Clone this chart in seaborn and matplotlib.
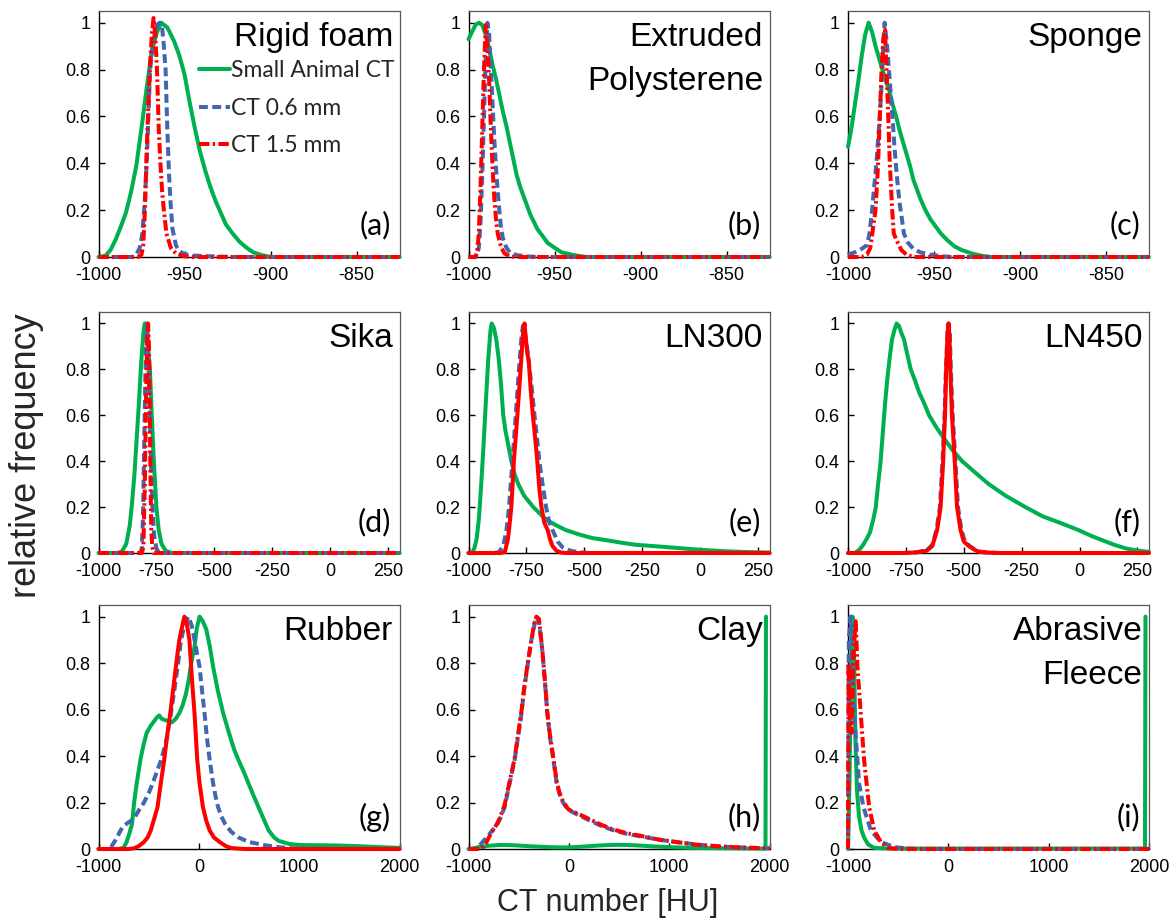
import matplotlib
matplotlib.use("Agg")
import matplotlib.pyplot as plt
import pandas as pd
import seaborn as sns

sns.set_theme(style="ticks")
plt.rcParams["font.family"] = ["Liberation Sans", "DejaVu Sans"]

# ---------------- data (CT number [HU], relative frequency) ----------------
SERIES_NAMES = ["Small Animal CT", "CT 0.6 mm", "CT 1.5 mm"]
TITLES = ["Rigid foam", "Extruded\nPolysterene", "Sponge", "Sika", "LN300", "LN450",
          "Rubber", "Clay", "Abrasive\nFleece"]
LETTERS = ["(a)", "(b)", "(c)", "(d)", "(e)", "(f)", "(g)", "(h)", "(i)"]
ROW_XTICKS = [[-1000, -950, -900, -850], [-1000, -750, -500, -250, 0, 250], [-1000, 0, 1000, 2000]]
ROW_XLIMS = [(-1000, -825), (-1000, 300), (-1000, 2000)]
Y_TICKS = [0, 0.2, 0.4, 0.6, 0.8, 1]
Y_TICK_LABELS = ["0", "0.2", "0.4", "0.6", "0.8", "1"]

# (a) Rigid foam
A_SA = [(-1000, 0), (-996, 0.005), (-993, 0.03), (-990, 0.075), (-987, 0.13), (-984, 0.19), (-981, 0.28),
        (-978, 0.39), (-975, 0.55), (-972, 0.72), (-969, 0.88), (-966, 0.96), (-963.5, 1.0), (-960, 0.98),
        (-956, 0.92), (-953, 0.86), (-950, 0.78), (-947, 0.66), (-944, 0.55), (-941, 0.45), (-938, 0.37),
        (-935, 0.3), (-932, 0.24), (-929, 0.19), (-926, 0.14), (-922, 0.1), (-918, 0.065), (-914, 0.04),
        (-910, 0.02), (-905, 0.008), (-900, 0.0), (-825, 0)]
A_06 = [(-1000, 0), (-980, 0), (-978, 0.01), (-976, 0.04), (-974.5, 0.1), (-973, 0.25), (-972, 0.4),
        (-971, 0.6), (-970, 0.8), (-968, 0.93), (-966, 0.99), (-964.5, 1.0), (-963, 0.98), (-962, 0.9),
        (-961, 0.8), (-960, 0.55), (-959, 0.35), (-958, 0.22), (-957, 0.12), (-955, 0.05), (-953, 0.025),
        (-950, 0.012), (-945, 0.006), (-935, 0.003), (-920, 0.0), (-825, 0)]
A_15 = [(-1000, 0), (-977, 0), (-975, 0.01), (-974, 0.05), (-973, 0.2), (-972, 0.45), (-971, 0.65),
        (-970, 0.82), (-969, 0.95), (-968, 1.02), (-967, 0.95), (-966, 0.8), (-965, 0.55), (-964, 0.4),
        (-963, 0.28), (-962, 0.2), (-960.5, 0.1), (-958, 0.04), (-955, 0.015), (-950, 0.003), (-945, 0),
        (-825, 0)]
# (b) Extruded polysterene
B_SA = [(-1000, 0.93), (-998, 0.96), (-996, 0.99), (-994, 1.0), (-992, 0.99), (-990, 0.95), (-988, 0.89),
        (-986, 0.82), (-984, 0.76), (-982, 0.69), (-980, 0.62), (-978, 0.56), (-976, 0.49), (-974, 0.42),
        (-972, 0.35), (-970, 0.3), (-968, 0.26), (-966, 0.22), (-964, 0.18), (-962, 0.15), (-960, 0.12),
        (-957, 0.09), (-954, 0.06), (-950, 0.04), (-946, 0.02), (-940, 0.01), (-932, 0.0), (-825, 0)]
B_06 = [(-1000, 0), (-996, 0.0), (-995, 0.01), (-994, 0.04), (-993, 0.15), (-992, 0.35), (-991, 0.6),
        (-990, 0.85), (-989, 1.0), (-988, 0.95), (-987, 0.8), (-986, 0.65), (-985, 0.5), (-984, 0.38),
        (-983, 0.28), (-982, 0.19), (-981, 0.12), (-980, 0.08), (-978, 0.04), (-976, 0.02), (-972, 0.008),
        (-965, 0.002), (-960, 0), (-825, 0)]
B_15 = [(-1000, 0), (-996, 0), (-995, 0.02), (-994, 0.1), (-993, 0.3), (-992, 0.55), (-991, 0.8),
        (-990, 0.99), (-989, 0.9), (-988, 0.75), (-987, 0.55), (-986, 0.38), (-985, 0.25), (-984, 0.16),
        (-983, 0.1), (-981, 0.04), (-979, 0.015), (-976, 0.003), (-972, 0), (-825, 0)]
# (c) Sponge
C_SA = [(-1000, 0.47), (-998, 0.55), (-996, 0.65), (-994, 0.75), (-992, 0.86), (-990, 0.95), (-988, 1.0),
        (-986, 0.96), (-984, 0.9), (-982, 0.85), (-980, 0.8), (-978, 0.75), (-976, 0.71), (-974, 0.65),
        (-972, 0.6), (-970, 0.54), (-968, 0.49), (-966, 0.44), (-964, 0.39), (-962, 0.33), (-960, 0.29),
        (-958, 0.25), (-955, 0.2), (-952, 0.16), (-949, 0.13), (-946, 0.1), (-942, 0.07), (-938, 0.045),
        (-934, 0.03), (-928, 0.015), (-922, 0.005), (-917, 0), (-825, 0)]
C_06 = [(-1000, 0.01), (-996, 0.02), (-992, 0.035), (-989, 0.05), (-987.5, 0.1), (-986, 0.2), (-984.5, 0.32),
        (-983.5, 0.4), (-982.5, 0.5), (-981.5, 0.6), (-980, 0.8), (-979.5, 0.9), (-978.7, 1.0), (-977.5, 0.92),
        (-976.2, 0.8), (-975, 0.68), (-974, 0.58), (-973, 0.47), (-972, 0.38), (-971, 0.3), (-970, 0.23),
        (-969, 0.18), (-967.5, 0.1), (-965, 0.06), (-962, 0.035), (-958, 0.02), (-952, 0.01), (-945, 0.003),
        (-940, 0), (-825, 0)]
C_15 = [(-1000, 0), (-992, 0), (-989, 0.01), (-987, 0.04), (-985.5, 0.12), (-984, 0.2), (-982.5, 0.4),
        (-981.5, 0.6), (-980.5, 0.8), (-979.5, 0.93), (-978.5, 0.97), (-977.6, 0.8), (-976.6, 0.6),
        (-975.7, 0.4), (-974.3, 0.2), (-973.4, 0.1), (-971, 0.06), (-969, 0.03), (-966, 0.01), (-962, 0),
        (-825, 0)]
# (d) Sika
D_SA = [(-1000, 0), (-920, 0), (-900, 0.005), (-880, 0.04), (-865, 0.12), (-855, 0.22), (-845, 0.34),
        (-835, 0.5), (-825, 0.66), (-815, 0.84), (-805, 0.97), (-800, 1.0), (-795, 0.97), (-785, 0.88),
        (-778, 0.8), (-770, 0.6), (-761, 0.4), (-750, 0.2), (-740, 0.1), (-728, 0.04), (-710, 0.01),
        (-690, 0.002), (-680, 0), (300, 0)]
D_06 = [(-1000, 0), (-820, 0), (-813, 0.02), (-808, 0.15), (-803, 0.45), (-798, 0.75), (-793, 0.95),
        (-790, 1.0), (-786, 0.9), (-781, 0.7), (-775, 0.45), (-768, 0.22), (-760, 0.08), (-750, 0.02),
        (-740, 0.003), (-730, 0), (300, 0)]
D_15 = [(-1000, 0), (-812, 0), (-806, 0.03), (-800, 0.3), (-795, 0.65), (-790, 0.92), (-786, 1.0),
        (-782, 0.9), (-778, 0.6), (-775, 0.3), (-772, 0.1), (-768, 0.03), (-762, 0), (300, 0)]
# (e) LN300
E_SA = [(-1000, 0), (-985, 0), (-975, 0.02), (-965, 0.06), (-955, 0.15), (-945, 0.3), (-935, 0.47),
        (-925, 0.66), (-915, 0.84), (-905, 0.97), (-900, 1.0), (-890, 0.98), (-880, 0.93), (-870, 0.85),
        (-860, 0.74), (-850, 0.6), (-840, 0.53), (-830, 0.48), (-815, 0.4), (-800, 0.34), (-785, 0.3),
        (-760, 0.25), (-720, 0.2), (-665, 0.145), (-620, 0.12), (-580, 0.1), (-520, 0.08), (-465, 0.065),
        (-400, 0.055), (-340, 0.045), (-280, 0.036), (-200, 0.03), (-100, 0.022), (0, 0.014), (100, 0.008),
        (200, 0.004), (250, 0.003), (300, 0.002)]
E_06 = [(-1000, 0), (-900, 0), (-870, 0.003), (-850, 0.03), (-836, 0.1), (-825, 0.2), (-810, 0.4),
        (-796, 0.6), (-782, 0.8), (-772, 0.93), (-765, 0.99), (-755, 0.95), (-745, 0.88), (-736, 0.8),
        (-725, 0.7), (-715, 0.6), (-704, 0.5), (-694, 0.4), (-680, 0.3), (-665, 0.2), (-650, 0.13),
        (-637, 0.1), (-615, 0.05), (-594, 0.025), (-560, 0.01), (-520, 0.003), (-480, 0), (300, 0)]
E_15 = [(-1000, 0), (-860, 0), (-843, 0.005), (-830, 0.06), (-825, 0.1), (-815, 0.2), (-804, 0.4),
        (-789, 0.6), (-775, 0.8), (-765, 0.95), (-758, 1.0), (-752, 0.93), (-746, 0.87), (-740, 0.84),
        (-732, 0.72), (-722, 0.6), (-712, 0.5), (-703, 0.4), (-694, 0.28), (-685, 0.2), (-672, 0.13),
        (-658, 0.1), (-648, 0.06), (-637, 0.03), (-620, 0.01), (-600, 0.002), (-580, 0), (300, 0)]
# (f) LN450
F_SA = [(-1000, 0), (-970, 0), (-950, 0.015), (-935, 0.035), (-920, 0.06), (-905, 0.09), (-890, 0.15),
        (-880, 0.2), (-870, 0.3), (-860, 0.39), (-850, 0.52), (-840, 0.65), (-830, 0.76), (-820, 0.85),
        (-810, 0.93), (-800, 0.97), (-790, 1.0), (-780, 0.99), (-770, 0.96), (-758, 0.93), (-745, 0.87),
        (-729, 0.8), (-710, 0.75), (-693, 0.7), (-670, 0.65), (-650, 0.6), (-620, 0.55), (-586, 0.5),
        (-550, 0.45), (-507, 0.4), (-450, 0.35), (-392, 0.3), (-320, 0.25), (-234, 0.2), (-160, 0.16),
        (-80, 0.13), (-5, 0.1), (50, 0.075), (100, 0.055), (152, 0.035), (200, 0.02), (252, 0.01),
        (300, 0.005)]
F_06 = [(-1000, 0), (-750, 0), (-700, 0.004), (-660, 0.012), (-636, 0.035), (-618, 0.1), (-603, 0.2),
        (-592, 0.4), (-583, 0.6), (-577, 0.8), (-570, 0.96), (-565, 1.0), (-560, 0.95), (-556, 0.8),
        (-548, 0.6), (-536, 0.4), (-525, 0.2), (-510, 0.1), (-495, 0.05), (-475, 0.03), (-450, 0.015),
        (-430, 0.006), (-390, 0.002), (-340, 0), (300, 0)]
F_15 = [(-1000, 0), (-760, 0), (-700, 0.003), (-660, 0.01), (-636, 0.03), (-615, 0.1), (-600, 0.2),
        (-589, 0.4), (-581, 0.6), (-576, 0.8), (-570, 0.96), (-566, 1.0), (-562, 0.95), (-558, 0.8),
        (-551, 0.6), (-539, 0.4), (-529, 0.2), (-514, 0.1), (-500, 0.05), (-478, 0.03), (-455, 0.015),
        (-435, 0.005), (-400, 0.002), (-350, 0), (300, 0)]
# (g) Rubber
G_SA = [(-1000, 0), (-800, 0), (-750, 0.005), (-720, 0.03), (-690, 0.07), (-665, 0.11), (-645, 0.2),
        (-620, 0.28), (-580, 0.39), (-550, 0.45), (-520, 0.5), (-480, 0.53), (-446, 0.55), (-420, 0.565),
        (-396, 0.575), (-370, 0.56), (-340, 0.555), (-300, 0.55), (-270, 0.545), (-230, 0.56), (-194, 0.585),
        (-160, 0.62), (-127, 0.67), (-100, 0.73), (-76, 0.8), (-43, 0.87), (-20, 0.95), (7, 1.0), (40, 0.98),
        (74, 0.945), (110, 0.87), (142, 0.785), (190, 0.68), (243, 0.584), (300, 0.5), (350, 0.43),
        (394, 0.384), (450, 0.33), (494, 0.283), (545, 0.23), (595, 0.18), (650, 0.125), (696, 0.08),
        (750, 0.05), (796, 0.035), (900, 0.022), (1000, 0.017), (1200, 0.016), (1400, 0.015), (1600, 0.012),
        (1800, 0.008), (2000, 0.005)]
G_06 = [(-1000, 0), (-900, 0), (-880, 0.005), (-850, 0.025), (-815, 0.05), (-780, 0.08), (-748, 0.1),
        (-700, 0.115), (-647, 0.13), (-600, 0.165), (-547, 0.2), (-500, 0.24), (-462, 0.28), (-420, 0.33),
        (-379, 0.38), (-345, 0.43), (-318, 0.48), (-278, 0.584), (-245, 0.68), (-211, 0.785), (-177, 0.9),
        (-140, 0.97), (-104, 1.0), (-70, 0.96), (-43, 0.9), (-18, 0.84), (7, 0.785), (30, 0.69), (57, 0.584),
        (80, 0.48), (108, 0.384), (142, 0.283), (165, 0.23), (192, 0.18), (225, 0.14), (259, 0.11),
        (320, 0.075), (394, 0.05), (500, 0.03), (662, 0.016), (800, 0.008), (930, 0.003), (1100, 0.0),
        (2000, 0)]
G_15 = [(-1000, 0), (-700, 0), (-647, 0.003), (-600, 0.012), (-547, 0.03), (-510, 0.05), (-479, 0.08),
        (-445, 0.13), (-412, 0.18), (-379, 0.283), (-345, 0.384), (-318, 0.48), (-285, 0.584), (-255, 0.69),
        (-228, 0.785), (-210, 0.85), (-194, 0.9), (-170, 0.95), (-144, 1.0), (-120, 0.97), (-94, 0.9),
        (-77, 0.785), (-60, 0.68), (-43, 0.584), (-16, 0.384), (7, 0.283), (41, 0.18), (75, 0.12),
        (108, 0.08), (150, 0.05), (208, 0.03), (270, 0.012), (326, 0.004), (450, 0.0), (2000, 0)]
# (h) Clay
H_SA = [(-1000, 0), (-950, 0.003), (-900, 0.008), (-800, 0.014), (-700, 0.017), (-600, 0.017),
        (-500, 0.015), (-400, 0.012), (-300, 0.01), (-200, 0.008), (-100, 0.007), (0, 0.007), (100, 0.009),
        (200, 0.012), (300, 0.015), (400, 0.017), (500, 0.018), (600, 0.017), (700, 0.015), (800, 0.012),
        (900, 0.01), (1000, 0.008), (1200, 0.005), (1400, 0.004), (1600, 0.003), (1800, 0.002),
        (1960, 0.002), (1965, 1.0)]
H_06 = [(-1000, 0), (-920, 0), (-909, 0.005), (-880, 0.02), (-859, 0.03), (-820, 0.05), (-790, 0.065),
        (-758, 0.082), (-720, 0.1), (-691, 0.125), (-640, 0.18), (-590, 0.283), (-540, 0.384), (-507, 0.48),
        (-473, 0.58), (-446, 0.685), (-413, 0.785), (-373, 0.9), (-345, 0.96), (-322, 1.0), (-298, 0.98),
        (-265, 0.857), (-232, 0.685), (-215, 0.584), (-188, 0.48), (-154, 0.384), (-121, 0.283),
        (-95, 0.24), (-70, 0.21), (-35, 0.185), (-3, 0.168), (100, 0.145), (198, 0.125), (320, 0.1),
        (433, 0.082), (580, 0.065), (735, 0.053), (900, 0.04), (1071, 0.03), (1300, 0.018), (1541, 0.01),
        (1800, 0.005), (2000, 0.003)]
H_15 = [(-1000, 0), (-880, 0), (-850, 0.01), (-820, 0.03), (-790, 0.055), (-758, 0.08), (-720, 0.105),
        (-691, 0.13), (-640, 0.19), (-590, 0.29), (-540, 0.39), (-507, 0.49), (-473, 0.59), (-446, 0.69),
        (-413, 0.79), (-373, 0.9), (-345, 0.97), (-322, 1.0), (-298, 0.99), (-265, 0.86), (-232, 0.69),
        (-215, 0.59), (-188, 0.49), (-154, 0.39), (-121, 0.29), (-95, 0.245), (-70, 0.215), (-35, 0.19),
        (-3, 0.17), (100, 0.15), (198, 0.13), (320, 0.105), (433, 0.085), (580, 0.068), (735, 0.055),
        (900, 0.04), (1071, 0.03), (1300, 0.017), (1541, 0.01), (1800, 0.005), (2000, 0.003)]
# (i) Abrasive fleece
I_SA = [(-1000, 0.0), (-985, 0.3), (-970, 0.8), (-955, 1.0), (-945, 0.95), (-935, 0.7), (-925, 0.45),
        (-910, 0.25), (-890, 0.14), (-865, 0.08), (-840, 0.05), (-800, 0.02), (-740, 0.005), (-600, 0.002),
        (0, 0.002), (1000, 0.002), (1960, 0.002), (1965, 1.0)]
I_06 = [(-1000, 0.0), (-992, 0.9), (-975, 1.0), (-960, 0.85), (-940, 0.584), (-906, 0.384), (-890, 0.283),
        (-846, 0.18), (-772, 0.08), (-672, 0.03), (-538, 0.008), (-400, 0.002), (-300, 0), (2000, 0)]
I_15 = [(-1000, 0.0), (-994, 0.8), (-985, 0.6), (-965, 0.5), (-945, 0.85), (-923, 0.98), (-906, 0.785),
        (-873, 0.584), (-840, 0.384), (-789, 0.18), (-739, 0.08), (-672, 0.03), (-605, 0.005), (-500, 0),
        (2000, 0)]

PANEL_DATA = [(A_SA, A_06, A_15), (B_SA, B_06, B_15), (C_SA, C_06, C_15),
              (D_SA, D_06, D_15), (E_SA, E_06, E_15), (F_SA, F_06, F_15),
              (G_SA, G_06, G_15), (H_SA, H_06, H_15), (I_SA, I_06, I_15)]
RED_SOLID = [False, False, False, False, True, True, True, False, False]

# ---------------- styling ----------------
GREEN, BLUE, RED = "#00B050", "#4267B2", "#FF0000"
LW = 2.9
DASH = (0, (2.2, 1.1))
DASHDOT = (0, (2.6, 0.8, 0.6, 0.8))

W, H = 1170, 921
fig = plt.figure(figsize=(W / 100, H / 100), dpi=100)
fig.patch.set_facecolor("white")

col_left = [98.5, 468.5, 848]
ax_w = 301
rows = [(11, 257), (312, 553), (605, 849)]

for k in range(9):
    r, c = divmod(k, 3)
    top, bot = rows[r]
    ax = fig.add_axes([col_left[c] / W, 1 - bot / H, ax_w / W, (bot - top) / H])
    ax.set_facecolor("white")
    sa, s06, s15 = PANEL_DATA[k]
    styles = [(sa, GREEN, "-"), (s06, BLUE, DASH), (s15, RED, "-" if RED_SOLID[k] else DASHDOT)]
    handles = []
    for pts, color, ls in styles:
        df = pd.DataFrame(pts, columns=["hu", "freq"])
        sns.lineplot(data=df, x="hu", y="freq", ax=ax, color=color, linewidth=LW,
                     sort=False, estimator=None, legend=False)
        ln = ax.lines[-1]
        ln.set_linestyle(ls)
        ln.set_clip_on(False)
        ln.set_zorder(3)
        handles.append(ln)
    ax.set_xlim(*ROW_XLIMS[r])
    ax.set_ylim(0, 1.05)
    ax.set_xticks(ROW_XTICKS[r])
    ax.set_xticklabels([str(t) for t in ROW_XTICKS[r]])
    ax.set_yticks(Y_TICKS)
    ax.set_yticklabels(Y_TICK_LABELS)
    ax.set_xlabel("")
    ax.set_ylabel("")
    ax.tick_params(axis="both", direction="in", length=4, width=1, colors="black",
                   labelsize=13, labelcolor="black")
    ax.tick_params(axis="x", pad=7)
    ax.tick_params(axis="y", pad=6)
    for side in ["left", "bottom"]:
        ax.spines[side].set_color("black")
        ax.spines[side].set_linewidth(1.0)
    for side in ["top", "right"]:
        ax.spines[side].set_color("#595959")
        ax.spines[side].set_linewidth(0.9)
    ax.text(0.978, 0.955, TITLES[k], transform=ax.transAxes, ha="right", va="top",
            fontsize=24, linespacing=1.55, color="black", zorder=5)
    ax.text(0.972, 0.07, LETTERS[k], transform=ax.transAxes, ha="right", va="bottom",
            fontsize=22, family=["Lato", "DejaVu Sans"], color="black", zorder=5)
    if k == 0:
        ax.legend(handles, SERIES_NAMES, loc="upper left", bbox_to_anchor=(0.335, 0.80),
                  frameon=False, borderpad=0, borderaxespad=0, handlelength=1.35,
                  handletextpad=0.05, labelspacing=0.72,
                  prop={"family": ["Lato", "DejaVu Sans"], "size": 16.5})

fig.text(27 / W, 1 - 456 / H, "relative frequency", rotation=90, ha="center", va="center", fontsize=26)
fig.text(608 / W, 1 - 903 / H, "CT number [HU]", ha="center", va="center", fontsize=22)

fig.savefig("out.png", dpi=100, facecolor="white")
